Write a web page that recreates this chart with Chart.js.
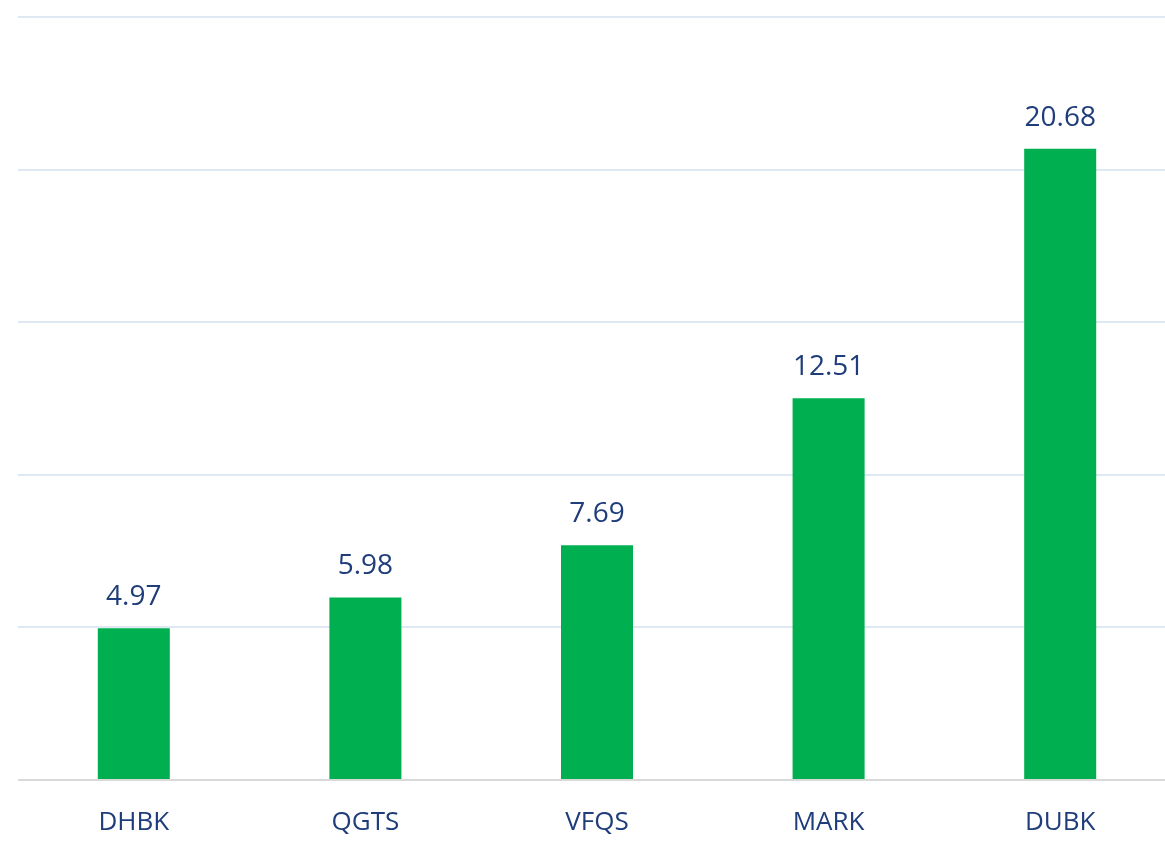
<!DOCTYPE html>
<html>
<head>
<meta charset="utf-8">
<script src="https://cdn.jsdelivr.net/npm/chart.js@4"></script>
<style>
  html, body { margin: 0; padding: 0; background: #fff; overflow: hidden; }
  #wrap { width: 1176px; height: 845px; position: relative; }
</style>
</head>
<body>
<div id="wrap"><canvas id="barChart"></canvas></div>
<script>
// chart data
const categories = ['DHBK', 'QGTS', 'VFQS', 'MARK', 'DUBK'];
const values = [4.97, 5.98, 7.69, 12.51, 20.68];
const yMax = 25;
const yStep = 5;

const textColor = '#1f3d7a';
const fontFamily = "'Open Sans', 'Liberation Sans', sans-serif";

// draws the value above each bar
const valueLabels = {
  id: 'valueLabels',
  afterDatasetsDraw(chart) {
    const ctx = chart.ctx;
    const meta = chart.getDatasetMeta(0);
    ctx.save();
    ctx.fillStyle = textColor;
    ctx.font = '28px ' + fontFamily;
    ctx.textAlign = 'center';
    ctx.textBaseline = 'middle';
    meta.data.forEach((bar, i) => {
      ctx.fillText(values[i].toFixed(2), bar.x, bar.y - 31);
    });
    ctx.restore();
  }
};

const ctx = document.getElementById('barChart');
new Chart(ctx, {
  type: 'bar',
  data: {
    labels: categories,
    datasets: [{
      data: values,
      backgroundColor: '#00b050',
      borderWidth: 0,
      barPercentage: 0.311,
      categoryPercentage: 1
    }]
  },
  options: {
    responsive: true,
    maintainAspectRatio: false,
    animation: false,
    layout: {
      padding: { left: 18, right: 0, top: 17, bottom: 6 }
    },
    plugins: {
      legend: { display: false },
      tooltip: { enabled: false }
    },
    scales: {
      x: {
        grid: { display: false },
        border: { display: false },
        ticks: {
          color: textColor,
          font: { family: fontFamily, size: 26 },
          padding: 19
        },
        afterFit(scale) {
          scale.height = 59;
        }
      },
      y: {
        min: 0,
        max: yMax,
        border: { display: false },
        ticks: { display: false, stepSize: yStep },
        grid: {
          lineWidth: 2,
          drawTicks: false,
          color: (c) => c.index === 0 ? '#d9d9d9' : '#dfe9f4'
        }
      }
    }
  },
  plugins: [valueLabels]
});
</script>
</body>
</html>
